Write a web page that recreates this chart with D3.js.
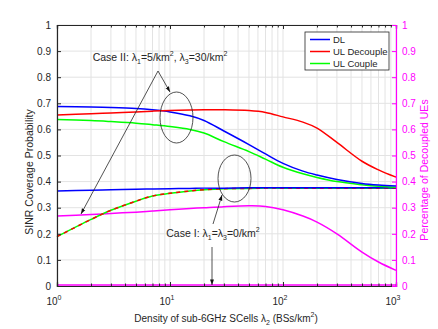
<!DOCTYPE html>
<html>
<head>
<meta charset="utf-8">
<script src="https://cdn.jsdelivr.net/npm/d3@7"></script>
<style>
	body { margin: 0; background: #fff; }
	svg { font-family: "Liberation Sans", Arial, sans-serif; }
</style>
</head>
<body>
<svg id="chart" width="438" height="329"></svg>
<script>
// density of sub-6GHz SCells (BSs/km^2)
var densities = [1, 2, 3, 5, 7, 10, 15, 20, 30, 50, 70, 100, 150, 200, 300, 500, 700, 1000];

// Case II: lambda1 = 5, lambda3 = 30
var dlCase2 = [0.688, 0.686, 0.684, 0.680, 0.675, 0.667, 0.652, 0.634, 0.594, 0.542, 0.506, 0.470, 0.440, 0.425, 0.408, 0.393, 0.387, 0.383];
var ulDecCase2 = [0.655, 0.660, 0.663, 0.667, 0.670, 0.672, 0.674, 0.675, 0.675, 0.672, 0.665, 0.648, 0.628, 0.605, 0.550, 0.478, 0.445, 0.417];
var ulCoupCase2 = [0.638, 0.634, 0.630, 0.624, 0.618, 0.611, 0.600, 0.586, 0.553, 0.515, 0.486, 0.455, 0.430, 0.416, 0.400, 0.388, 0.382, 0.378];
var pctCase2 = [0.268, 0.274, 0.278, 0.283, 0.287, 0.292, 0.297, 0.300, 0.304, 0.307, 0.305, 0.292, 0.268, 0.245, 0.200, 0.130, 0.092, 0.060];

// Case I: lambda1 = lambda3 = 0
var dlCase1 = [0.364, 0.367, 0.369, 0.371, 0.372, 0.373, 0.374, 0.375, 0.375, 0.376, 0.376, 0.376, 0.376, 0.376, 0.376, 0.376, 0.376, 0.376];
var ulCase1 = [0.189, 0.255, 0.290, 0.325, 0.345, 0.355, 0.364, 0.369, 0.373, 0.374, 0.375, 0.375, 0.375, 0.375, 0.375, 0.375, 0.375, 0.375];
var pctCase1 = [0.004, 0.004, 0.004, 0.004, 0.004, 0.004, 0.004, 0.004, 0.004, 0.004, 0.004, 0.004, 0.004, 0.004, 0.004, 0.004, 0.004, 0.004];

var yTicks = [0, 0.1, 0.2, 0.3, 0.4, 0.5, 0.6, 0.7, 0.8, 0.9, 1];
var xDecades = [1, 10, 100, 1000];
var legendNames = ["DL", "UL Decouple", "UL Couple"];
var legendColors = ["#0000ff", "#ff0000", "#00ff00"];

var plotL = 57, plotR = 396, plotT = 25, plotB = 286;
var svg = d3.select("#chart");

var x = d3.scaleLog().domain([1, 1000]).range([plotL, plotR]);
var y = d3.scaleLinear().domain([0, 1]).range([plotB, plotT]);
var yR = d3.scaleLinear().domain([0, 1]).range([plotB, plotT]);

// minor ticks of the log axis
var minorTicks = [];
xDecades.slice(0, 3).forEach(function (d) {
	for (var k = 2; k <= 9; k++) minorTicks.push(d * k);
});

// grid
var grid = svg.append("g").attr("stroke", "#e3e3e3").attr("stroke-width", 1);
minorTicks.concat(xDecades).forEach(function (v) {
	grid.append("line").attr("x1", x(v)).attr("x2", x(v)).attr("y1", plotT).attr("y2", plotB);
});
yTicks.forEach(function (v) {
	grid.append("line").attr("x1", plotL).attr("x2", plotR).attr("y1", y(v)).attr("y2", y(v));
});

// curves
var line = d3.line()
	.x(function (d, i) { return x(densities[i]); })
	.y(function (d) { return y(d); })
	.curve(d3.curveCatmullRom.alpha(0.5));

function drawCurve(values, color, dash) {
	var p = svg.append("path")
		.attr("d", line(values))
		.attr("fill", "none")
		.attr("stroke", color)
		.attr("stroke-width", 1.5);
	if (dash) p.attr("stroke-dasharray", dash);
	return p;
}

drawCurve(pctCase1, "#ff00ff");
drawCurve(pctCase2, "#ff00ff");
drawCurve(ulCase1, "#00ff00");
drawCurve(ulCase1, "#ff0000", "4,4");
drawCurve(dlCase1, "#0000ff");
drawCurve(ulCoupCase2, "#00ff00");
drawCurve(dlCase2, "#0000ff");
drawCurve(ulDecCase2, "#ff0000");

// axes
var gB = svg.append("g").attr("transform", "translate(0," + plotB + ")")
	.call(d3.axisBottom(x).tickValues(xDecades).tickSize(-4).tickFormat(""));
var gT = svg.append("g").attr("transform", "translate(0," + plotT + ")")
	.call(d3.axisTop(x).tickValues(xDecades).tickSize(-4).tickFormat(""));
var gBm = svg.append("g").attr("transform", "translate(0," + plotB + ")")
	.call(d3.axisBottom(x).tickValues(minorTicks).tickSize(-2.5).tickFormat(""));
var gTm = svg.append("g").attr("transform", "translate(0," + plotT + ")")
	.call(d3.axisTop(x).tickValues(minorTicks).tickSize(-2.5).tickFormat(""));
[gB, gT, gBm, gTm].forEach(function (g) {
	g.selectAll("path").attr("stroke", "#262626").attr("stroke-width", 1.2);
	g.selectAll("line").attr("stroke", "#262626");
});

var gL = svg.append("g").attr("transform", "translate(" + plotL + ",0)")
	.call(d3.axisLeft(y).tickValues(yTicks).tickSize(-4).tickPadding(6).tickFormat(d3.format("")));
gL.selectAll("path").attr("stroke", "#262626").attr("stroke-width", 1.2);
gL.selectAll("line").attr("stroke", "#262626");
gL.selectAll("text").attr("fill", "#262626").style("font-size", "10px").style("font-family", "Liberation Sans, Arial, sans-serif");

var gR = svg.append("g").attr("transform", "translate(" + plotR + ",0)")
	.call(d3.axisRight(yR).tickValues(yTicks).tickSize(-4).tickPadding(6).tickFormat(d3.format("")));
gR.selectAll("path").attr("stroke", "#ff00ff").attr("stroke-width", 1.2);
gR.selectAll("line").attr("stroke", "#ff00ff");
gR.selectAll("text").attr("fill", "#ff00ff").style("font-size", "10px").style("font-family", "Liberation Sans, Arial, sans-serif");

// x tick labels 10^n
xDecades.forEach(function (v, i) {
	var t = svg.append("text")
		.attr("x", x(v) - 3)
		.attr("y", plotB + 19)
		.attr("text-anchor", "middle")
		.attr("fill", "#262626")
		.style("font-size", "10px");
	t.append("tspan").text("10");
	t.append("tspan").attr("dy", -5).style("font-size", "7px").text(i);
});

// axis titles
var xt = svg.append("text")
	.attr("x", 226).attr("y", 322)
	.attr("text-anchor", "middle")
	.attr("fill", "#262626")
	.style("font-size", "10px");
xt.append("tspan").text("Density of sub-6GHz SCells λ");
xt.append("tspan").attr("dy", 3).style("font-size", "7px").text("2");
xt.append("tspan").attr("dy", -3).text(" (BSs/km");
xt.append("tspan").attr("dy", -5).style("font-size", "7px").text("2");
xt.append("tspan").attr("dy", 5).text(")");

svg.append("text")
	.attr("transform", "translate(33,172) rotate(-90)")
	.attr("text-anchor", "middle")
	.attr("fill", "#262626")
	.style("font-size", "10.5px")
	.text("SINR Coverage Probability");

svg.append("text")
	.attr("transform", "translate(428,170) rotate(-90)")
	.attr("text-anchor", "middle")
	.attr("fill", "#ff00ff")
	.style("font-size", "10.5px")
	.text("Percentage of Decoupled UEs");

// annotations
var ann = svg.append("g").attr("stroke", "#262626").attr("fill", "none").attr("stroke-width", 0.8);
svg.append("defs").append("marker")
	.attr("id", "arrow")
	.attr("viewBox", "0 0 10 10")
	.attr("refX", 10).attr("refY", 5)
	.attr("markerWidth", 7).attr("markerHeight", 7)
	.attr("orient", "auto")
	.append("path").attr("d", "M0,1.5L10,5L0,8.5Z").attr("fill", "#111");

ann.append("ellipse").attr("cx", 176.5).attr("cy", 117.5).attr("rx", 16.5).attr("ry", 25.5);
ann.append("ellipse").attr("cx", 234.5).attr("cy", 178.5).attr("rx", 16.5).attr("ry", 23.5);
ann.append("line").attr("x1", 158).attr("y1", 71).attr("x2", 170).attr("y2", 92).attr("marker-end", "url(#arrow)");
ann.append("line").attr("x1", 158).attr("y1", 71).attr("x2", 81).attr("y2", 214).attr("marker-end", "url(#arrow)");
ann.append("line").attr("x1", 213).attr("y1", 224).attr("x2", 222).attr("y2", 195).attr("marker-end", "url(#arrow)");
ann.append("line").attr("x1", 212).attr("y1", 247).attr("x2", 212).attr("y2", 285).attr("marker-end", "url(#arrow)");

function caseLabel(px, py, parts) {
	var t = svg.append("text").attr("x", px).attr("y", py)
		.attr("text-anchor", "middle").attr("fill", "#262626").style("font-size", "10.5px");
	parts.forEach(function (p) {
		var s = t.append("tspan").text(p[0]);
		if (p[1] === "sub") s.attr("dy", 3).style("font-size", "7px");
		if (p[1] === "sup") s.attr("dy", -5).style("font-size", "7px");
		if (p[2]) s.attr("dy", p[2]);
	});
}
caseLabel(160, 61, [["Case II: λ"], ["1", "sub"], ["=5/km", null, -3], ["2", "sup"], [", λ", null, 5], ["3", "sub"], ["=30/km", null, -3], ["2", "sup"]]);
caseLabel(213, 237, [["Case I: λ"], ["1", "sub"], ["=λ", null, -3], ["3", "sub"], ["=0/km", null, -3], ["2", "sup"]]);

// legend
var lg = svg.append("g");
lg.append("rect").attr("x", 305).attr("y", 32).attr("width", 84).attr("height", 38)
	.attr("fill", "#fff").attr("stroke", "#262626").attr("stroke-width", 0.8);
legendNames.forEach(function (name, i) {
	var ly = 39.5 + i * 12;
	lg.append("line").attr("x1", 310).attr("x2", 330).attr("y1", ly).attr("y2", ly)
		.attr("stroke", legendColors[i]).attr("stroke-width", 1.5);
	lg.append("text").attr("x", 333).attr("y", ly + 3.5).attr("fill", "#262626")
		.style("font-size", "9.5px").text(name);
});
</script>
</body>
</html>
